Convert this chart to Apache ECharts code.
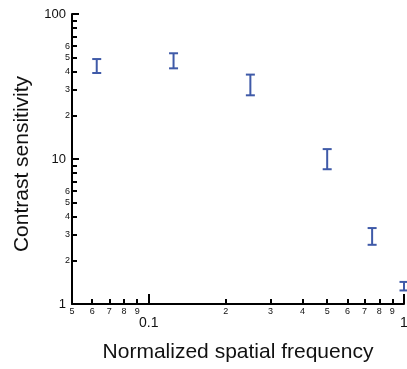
<!DOCTYPE html>
<html>
<head>
<meta charset="utf-8">
<script src="https://cdn.jsdelivr.net/npm/echarts@6/dist/echarts.min.js"></script>
<style>
html,body{margin:0;padding:0;background:#fff;}
#c{width:407px;height:369px;}
</style>
</head>
<body>
<div id="c"></div>
<script>
// Data
const freqs = [0.0625, 0.125, 0.25, 0.5, 0.75, 1.0];
const lowerCS = [39.2, 42.2, 27.5, 8.5, 2.56, 1.24];
const upperCS = [48.9, 53.6, 38.2, 11.7, 3.34, 1.42];

// Tick values
const xMajorTicks = [0.1, 1];
const xMinorTicks = [0.05, 0.06, 0.07, 0.08, 0.09, 0.2, 0.3, 0.4, 0.5, 0.6, 0.7, 0.8, 0.9];
const xMinorLabels = ['5', '6', '7', '8', '9', '2', '3', '4', '5', '6', '7', '8', '9'];
const xMajorLabels = ['0.1', '1'];
const yMajorTicks = [1, 10, 100];
const yMajorLabels = ['1', '10', '100'];
const yMinorTicks = [2, 3, 4, 5, 6, 7, 8, 9, 20, 30, 40, 50, 60, 70, 80, 90];
const yMinorLabels = ['2', '3', '4', '5', '6', '', '', '', '2', '3', '4', '5', '6', '', '', ''];

const FONT = '"Liberation Sans", Arial, Helvetica, sans-serif';
const seriesData = freqs.map((f, i) => [f, lowerCS[i], upperCS[i]]);

function labelFor(ticks, labels) {
  return function (v) {
    for (let i = 0; i < ticks.length; i++) {
      if (Math.abs(Math.log10(v) - Math.log10(ticks[i])) < 1e-6) return labels[i];
    }
    return '';
  };
}

const chart = echarts.init(document.getElementById('c'), null, {renderer: 'canvas'});
const axisCommon = {
  type: 'log',
  logBase: 10,
  splitLine: {show: false},
  minorTick: {show: false},
  minorSplitLine: {show: false}
};
chart.setOption({
  animation: false,
  backgroundColor: '#ffffff',
  grid: {left: 72, right: 3, top: 14, bottom: 65, containLabel: false, outerBoundsMode: 'none'},
  xAxis: [
    Object.assign({}, axisCommon, {
      min: 0.05, max: 1,
      position: 'bottom',
      name: 'Normalized spatial frequency',
      nameLocation: 'middle',
      nameGap: 38,
      nameTextStyle: {fontFamily: FONT, fontSize: 21, color: '#111'},
      axisLine: {show: true, lineStyle: {color: '#000', width: 2}},
      axisTick: {show: true, inside: true, length: 10, lineStyle: {color: '#000', width: 2}, customValues: xMajorTicks},
      axisLabel: {show: true, margin: 12, fontFamily: FONT, fontSize: 14, color: '#111',
        customValues: xMajorTicks, formatter: labelFor(xMajorTicks, xMajorLabels), showMinLabel: true, showMaxLabel: true}
    }),
    Object.assign({}, axisCommon, {
      min: 0.05, max: 1,
      position: 'bottom',
      axisLine: {show: false},
      axisTick: {show: true, inside: true, length: 5, lineStyle: {color: '#000', width: 2}, customValues: xMinorTicks},
      axisLabel: {show: true, margin: 3, fontFamily: FONT, fontSize: 9, color: '#111',
        customValues: xMinorTicks, formatter: labelFor(xMinorTicks, xMinorLabels), showMinLabel: true, showMaxLabel: true}
    })
  ],
  yAxis: [
    Object.assign({}, axisCommon, {
      min: 1, max: 100,
      position: 'left',
      name: 'Contrast sensitivity',
      nameLocation: 'middle',
      nameGap: 39,
      nameTextStyle: {fontFamily: FONT, fontSize: 21, color: '#111', padding: [0, 10, 0, 0]},
      axisLine: {show: true, lineStyle: {color: '#000', width: 2}},
      axisTick: {show: true, inside: true, length: 7, lineStyle: {color: '#000', width: 2}, customValues: yMajorTicks},
      axisLabel: {show: true, margin: 6, fontFamily: FONT, fontSize: 13, color: '#111',
        customValues: yMajorTicks, formatter: labelFor(yMajorTicks, yMajorLabels), showMinLabel: true, showMaxLabel: true}
    }),
    Object.assign({}, axisCommon, {
      min: 1, max: 100,
      position: 'left',
      axisLine: {show: false},
      axisTick: {show: true, inside: true, length: 5, lineStyle: {color: '#000', width: 2}, customValues: yMinorTicks},
      axisLabel: {show: true, margin: 2, fontFamily: FONT, fontSize: 9, color: '#111',
        customValues: yMinorTicks, formatter: labelFor(yMinorTicks, yMinorLabels), showMinLabel: true, showMaxLabel: true}
    })
  ],
  series: [{
    type: 'custom',
    xAxisIndex: 0,
    yAxisIndex: 0,
    clip: false,
    data: seriesData,
    encode: {x: 0, y: [1, 2]},
    renderItem: function (params, api) {
      const x = api.value(0);
      const lo = api.coord([x, api.value(1)]);
      const hi = api.coord([x, api.value(2)]);
      const hw = 4.5;
      const style = {stroke: '#3f5aa8', lineWidth: 2, fill: null};
      return {
        type: 'group',
        children: [
          {type: 'line', shape: {x1: lo[0], y1: lo[1], x2: hi[0], y2: hi[1]}, style: style},
          {type: 'line', shape: {x1: hi[0] - hw, y1: hi[1], x2: hi[0] + hw, y2: hi[1]}, style: style},
          {type: 'line', shape: {x1: lo[0] - hw, y1: lo[1], x2: lo[0] + hw, y2: lo[1]}, style: style}
        ]
      };
    }
  }]
});
</script>
</body>
</html>
